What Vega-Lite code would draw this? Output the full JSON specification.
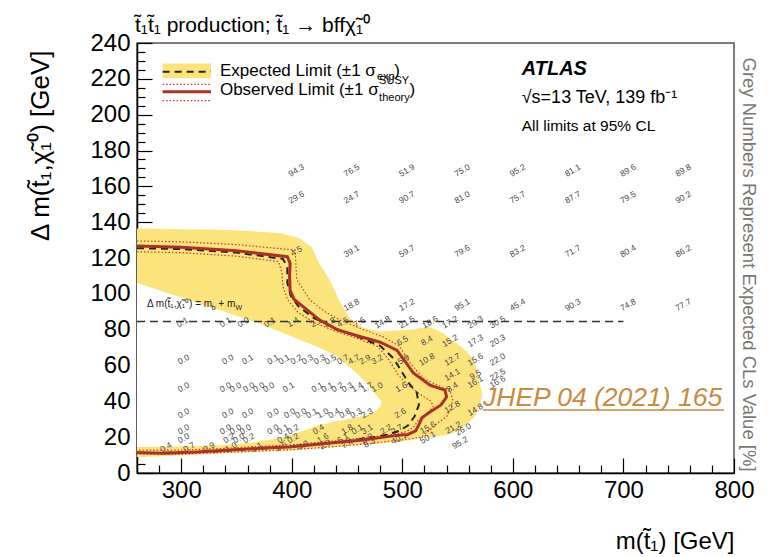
{
  "$schema": "https://vega.github.io/schema/vega-lite/v6.json",
  "autosize": {"type": "none"},
  "width": 597,
  "height": 430,
  "padding": {"left": 137, "top": 43, "right": 38, "bottom": 84},
  "background": "white",
  "config": {
    "font": "Liberation Sans",
    "view": {"stroke": "#555", "strokeWidth": 1.5},
    "axis": {"labelFont": "Liberation Sans", "titleFont": "Liberation Sans", "grid": false}
  },
  "datasets": {
    "outer": [
      {"x": 260, "lo": 9, "hi": 136.5}, {"x": 300, "lo": 9.8, "hi": 136}, {"x": 344, "lo": 11, "hi": 135.6},
      {"x": 389, "lo": 12.3, "hi": 134}, {"x": 407, "lo": 13, "hi": 131}, {"x": 418, "lo": 13.5, "hi": 126},
      {"x": 425, "lo": 13.8, "hi": 117}, {"x": 434, "lo": 14.3, "hi": 108}, {"x": 444, "lo": 14.8, "hi": 95},
      {"x": 453, "lo": 15.2, "hi": 86}, {"x": 465, "lo": 15.8, "hi": 81}, {"x": 480, "lo": 16.5, "hi": 79},
      {"x": 495, "lo": 17.3, "hi": 79.5}, {"x": 510, "lo": 18.5, "hi": 80}, {"x": 516, "lo": 19.5, "hi": 81},
      {"x": 525, "lo": 20, "hi": 81.5}, {"x": 537, "lo": 21, "hi": 78}, {"x": 545, "lo": 22, "hi": 74},
      {"x": 552, "lo": 24, "hi": 71}, {"x": 558, "lo": 27, "hi": 68}, {"x": 563, "lo": 30, "hi": 64},
      {"x": 567, "lo": 33, "hi": 59}, {"x": 570, "lo": 38, "hi": 50}, {"x": 572, "lo": 43, "hi": 45}
    ],
    "inner": [
      {"x": 260, "lo": 14.5, "hi": 106}, {"x": 300, "lo": 15, "hi": 98}, {"x": 344, "lo": 15.6, "hi": 89},
      {"x": 368, "lo": 17.5, "hi": 84}, {"x": 389, "lo": 19.5, "hi": 79}, {"x": 405, "lo": 22.3, "hi": 75},
      {"x": 423, "lo": 26.5, "hi": 70.5}, {"x": 435, "lo": 28, "hi": 67}, {"x": 441, "lo": 29, "hi": 65},
      {"x": 459, "lo": 31, "hi": 55.6}, {"x": 471, "lo": 33, "hi": 48}, {"x": 477, "lo": 35, "hi": 43},
      {"x": 481, "lo": 38, "hi": 40}
    ],
    "obs": [
      {"i": 1, "x": 260, "y": 126.7}, {"i": 2, "x": 300, "y": 126}, {"i": 3, "x": 350, "y": 124},
      {"i": 4, "x": 396, "y": 120.7}, {"i": 5, "x": 398.5, "y": 117}, {"i": 6, "x": 398, "y": 110},
      {"i": 7, "x": 398.5, "y": 102}, {"i": 8, "x": 402, "y": 97}, {"i": 9, "x": 410, "y": 93},
      {"i": 10, "x": 425, "y": 85.5}, {"i": 11, "x": 441, "y": 80}, {"i": 12, "x": 460, "y": 76.5},
      {"i": 13, "x": 480, "y": 73}, {"i": 14, "x": 495, "y": 68.6}, {"i": 15, "x": 504, "y": 61},
      {"i": 16, "x": 510, "y": 55.8}, {"i": 17, "x": 525, "y": 49}, {"i": 18, "x": 538.6, "y": 46.3},
      {"i": 19, "x": 540, "y": 42.4}, {"i": 20, "x": 535, "y": 38}, {"i": 21, "x": 525, "y": 34},
      {"i": 22, "x": 518, "y": 31}, {"i": 23, "x": 515, "y": 27}, {"i": 24, "x": 512, "y": 23.5},
      {"i": 25, "x": 505, "y": 21.5}, {"i": 26, "x": 495, "y": 21}, {"i": 27, "x": 464, "y": 18.4},
      {"i": 28, "x": 435, "y": 16.7}, {"i": 29, "x": 398, "y": 14.5}, {"i": 30, "x": 374, "y": 13.9},
      {"i": 31, "x": 344, "y": 12.8}, {"i": 32, "x": 314, "y": 11.7}, {"i": 33, "x": 284, "y": 11},
      {"i": 34, "x": 260, "y": 11.5}
    ],
    "exp": [
      {"i": 1, "x": 260, "y": 125.5}, {"i": 2, "x": 300, "y": 125}, {"i": 3, "x": 350, "y": 123},
      {"i": 4, "x": 392, "y": 119.5}, {"i": 5, "x": 396, "y": 115}, {"i": 6, "x": 396, "y": 106},
      {"i": 7, "x": 399, "y": 99}, {"i": 8, "x": 406, "y": 93}, {"i": 9, "x": 420, "y": 86.5},
      {"i": 10, "x": 440, "y": 80.5}, {"i": 11, "x": 460, "y": 76}, {"i": 12, "x": 480, "y": 71},
      {"i": 13, "x": 492, "y": 64}, {"i": 14, "x": 499, "y": 57}, {"i": 15, "x": 506, "y": 50},
      {"i": 16, "x": 513, "y": 45}, {"i": 17, "x": 515, "y": 38}, {"i": 18, "x": 511, "y": 31.5},
      {"i": 19, "x": 505, "y": 26.5}, {"i": 20, "x": 497, "y": 23.5}, {"i": 21, "x": 486, "y": 21.3},
      {"i": 22, "x": 470, "y": 19.5}, {"i": 23, "x": 450, "y": 17.8}, {"i": 24, "x": 430, "y": 16.5},
      {"i": 25, "x": 410, "y": 15.3}, {"i": 26, "x": 390, "y": 14.2}, {"i": 27, "x": 370, "y": 13.5},
      {"i": 28, "x": 350, "y": 12.8}, {"i": 29, "x": 330, "y": 12}, {"i": 30, "x": 300, "y": 11.5},
      {"i": 31, "x": 280, "y": 11.2}, {"i": 32, "x": 260, "y": 11.2}
    ],
    "thu": [
      {"i": 1, "x": 260, "y": 129.5}, {"i": 2, "x": 300, "y": 129}, {"i": 3, "x": 350, "y": 127.5},
      {"i": 4, "x": 403, "y": 124.4}, {"i": 5, "x": 404.5, "y": 108}, {"i": 6, "x": 416.5, "y": 96.5},
      {"i": 7, "x": 430, "y": 90}, {"i": 8, "x": 445, "y": 85}, {"i": 9, "x": 465, "y": 80},
      {"i": 10, "x": 482.5, "y": 76}, {"i": 11, "x": 497, "y": 71}, {"i": 12, "x": 507, "y": 61.4},
      {"i": 13, "x": 518.7, "y": 53}, {"i": 14, "x": 530, "y": 49.5}, {"i": 15, "x": 543, "y": 46.3},
      {"i": 16, "x": 545.5, "y": 41}, {"i": 17, "x": 544.6, "y": 37}, {"i": 18, "x": 540, "y": 31.4},
      {"i": 19, "x": 532, "y": 28}, {"i": 20, "x": 525, "y": 24}, {"i": 21, "x": 517, "y": 20},
      {"i": 22, "x": 500, "y": 18.5}, {"i": 23, "x": 470, "y": 16.5}, {"i": 24, "x": 440, "y": 14.8},
      {"i": 25, "x": 400, "y": 13}, {"i": 26, "x": 370, "y": 12.3}, {"i": 27, "x": 340, "y": 11.5},
      {"i": 28, "x": 300, "y": 10.5}, {"i": 29, "x": 260, "y": 10.5}
    ],
    "thd": [
      {"i": 1, "x": 260, "y": 123.5}, {"i": 2, "x": 300, "y": 123}, {"i": 3, "x": 350, "y": 121},
      {"i": 4, "x": 388, "y": 118}, {"i": 5, "x": 391, "y": 112}, {"i": 6, "x": 392, "y": 104},
      {"i": 7, "x": 396, "y": 97}, {"i": 8, "x": 405, "y": 90}, {"i": 9, "x": 420, "y": 84},
      {"i": 10, "x": 440, "y": 79}, {"i": 11, "x": 460, "y": 75}, {"i": 12, "x": 478, "y": 70.5},
      {"i": 13, "x": 488, "y": 63}, {"i": 14, "x": 496, "y": 55}, {"i": 15, "x": 505, "y": 49},
      {"i": 16, "x": 516, "y": 44}, {"i": 17, "x": 526, "y": 40}, {"i": 18, "x": 528, "y": 37},
      {"i": 19, "x": 522, "y": 33}, {"i": 20, "x": 515, "y": 30}, {"i": 21, "x": 510, "y": 25.5},
      {"i": 22, "x": 503, "y": 23}, {"i": 23, "x": 490, "y": 21.5}, {"i": 24, "x": 470, "y": 20},
      {"i": 25, "x": 440, "y": 18}, {"i": 26, "x": 400, "y": 15.8}, {"i": 27, "x": 370, "y": 14.8},
      {"i": 28, "x": 340, "y": 13.8}, {"i": 29, "x": 300, "y": 12.8}, {"i": 30, "x": 260, "y": 12.8}
    ],
    "cls": [
      {"x": 404, "y": 169, "v": "94.3"}, {"x": 454, "y": 169, "v": "76.5"}, {"x": 504, "y": 169, "v": "51.9"}, {"x": 554, "y": 169, "v": "75.0"},
      {"x": 604, "y": 169, "v": "95.2"}, {"x": 654, "y": 169, "v": "81.1"}, {"x": 704, "y": 169, "v": "89.6"}, {"x": 754, "y": 169, "v": "89.8"},
      {"x": 404, "y": 154, "v": "29.6"}, {"x": 454, "y": 154, "v": "24.7"}, {"x": 504, "y": 154, "v": "90.7"}, {"x": 554, "y": 154, "v": "81.0"},
      {"x": 604, "y": 154, "v": "75.7"}, {"x": 654, "y": 154, "v": "87.7"}, {"x": 704, "y": 154, "v": "79.5"}, {"x": 754, "y": 154, "v": "90.2"},
      {"x": 404, "y": 124, "v": "4.5"}, {"x": 454, "y": 124, "v": "39.1"}, {"x": 504, "y": 124, "v": "59.7"}, {"x": 554, "y": 124, "v": "79.6"},
      {"x": 604, "y": 124, "v": "83.2"}, {"x": 654, "y": 124, "v": "71.7"}, {"x": 704, "y": 124, "v": "80.4"}, {"x": 754, "y": 124, "v": "86.2"},
      {"x": 454, "y": 94, "v": "18.8"}, {"x": 504, "y": 94, "v": "17.2"}, {"x": 554, "y": 94, "v": "95.1"}, {"x": 604, "y": 94, "v": "45.4"},
      {"x": 654, "y": 94, "v": "90.3"}, {"x": 704, "y": 94, "v": "74.8"}, {"x": 754, "y": 94, "v": "77.7"},
      {"x": 301, "y": 84.3, "v": "0.1"}, {"x": 340, "y": 84.3, "v": "0.1"}, {"x": 356, "y": 84.3, "v": "0.0"}, {"x": 380, "y": 84.3, "v": "0.1"},
      {"x": 401, "y": 84.3, "v": "1.4"}, {"x": 422, "y": 84.3, "v": "2.1"}, {"x": 434, "y": 84.3, "v": "2.8"}, {"x": 446, "y": 84.3, "v": "4.5"},
      {"x": 461, "y": 84.3, "v": "7.6"}, {"x": 482, "y": 84.3, "v": "14.8"}, {"x": 504, "y": 84.3, "v": "21.5"}, {"x": 525, "y": 84.3, "v": "18.6"},
      {"x": 543, "y": 84.3, "v": "17.2"}, {"x": 566, "y": 84.3, "v": "29.3"}, {"x": 586, "y": 84.3, "v": "30.5"},
      {"x": 500, "y": 74, "v": "6.5"}, {"x": 522, "y": 74, "v": "8.4"}, {"x": 543, "y": 74, "v": "15.2"}, {"x": 566, "y": 74, "v": "17.3"}, {"x": 586, "y": 74, "v": "20.3"},
      {"x": 302, "y": 63.5, "v": "0.0"}, {"x": 342, "y": 63.5, "v": "0.0"}, {"x": 360, "y": 63.5, "v": "0.1"}, {"x": 383, "y": 63.5, "v": "0.1"},
      {"x": 393, "y": 63.5, "v": "0.1"}, {"x": 404, "y": 63.5, "v": "0.2"}, {"x": 414, "y": 63.5, "v": "0.3"}, {"x": 425, "y": 63.5, "v": "0.3"},
      {"x": 435, "y": 63.5, "v": "0.5"}, {"x": 446, "y": 63.5, "v": "0.7"}, {"x": 456, "y": 63.5, "v": "4.7"}, {"x": 466, "y": 63.5, "v": "2.9"},
      {"x": 477, "y": 63.5, "v": "3.2"}, {"x": 501, "y": 63.5, "v": "5.9"}, {"x": 522, "y": 63.5, "v": "10.8"}, {"x": 545, "y": 63.5, "v": "12.7"},
      {"x": 566, "y": 63.5, "v": "15.6"}, {"x": 586, "y": 63.5, "v": "22.0"},
      {"x": 545, "y": 55, "v": "14.1"}, {"x": 566, "y": 55, "v": "9.5"}, {"x": 586, "y": 55, "v": "22.5"},
      {"x": 566, "y": 51, "v": "16.1"}, {"x": 586, "y": 51, "v": "16.6"},
      {"x": 302, "y": 48, "v": "0.0"}, {"x": 340, "y": 48, "v": "0.0"}, {"x": 349, "y": 48, "v": "0.0"}, {"x": 361, "y": 48, "v": "0.0"},
      {"x": 370, "y": 48, "v": "0.0"}, {"x": 379, "y": 48, "v": "0.0"}, {"x": 397, "y": 48, "v": "0.1"}, {"x": 423, "y": 48, "v": "0.1"},
      {"x": 432, "y": 48, "v": "0.1"}, {"x": 441, "y": 48, "v": "0.2"}, {"x": 450, "y": 48, "v": "0.3"}, {"x": 459, "y": 48, "v": "1.4"},
      {"x": 468, "y": 48, "v": "1.7"}, {"x": 477, "y": 48, "v": "1.0"}, {"x": 499, "y": 48, "v": "1.6"}, {"x": 545, "y": 48, "v": "8.4"},
      {"x": 545, "y": 37, "v": "12.8"}, {"x": 566, "y": 35.5, "v": "14.8"},
      {"x": 302, "y": 33.5, "v": "0.0"}, {"x": 342, "y": 33.5, "v": "0.0"}, {"x": 360, "y": 33.5, "v": "0.0"}, {"x": 383, "y": 33.5, "v": "0.0"},
      {"x": 398, "y": 33.5, "v": "0.0"}, {"x": 408, "y": 33.5, "v": "0.0"}, {"x": 418, "y": 33.5, "v": "0.1"}, {"x": 428, "y": 33.5, "v": "1.0"},
      {"x": 438, "y": 33.5, "v": "0.4"}, {"x": 448, "y": 33.5, "v": "0.8"}, {"x": 458, "y": 33.5, "v": "0.3"}, {"x": 468, "y": 33.5, "v": "2.3"},
      {"x": 498, "y": 33.5, "v": "2.6"},
      {"x": 302, "y": 24.5, "v": "0.0"}, {"x": 340, "y": 24.5, "v": "0.0"}, {"x": 349, "y": 24.5, "v": "0.0"}, {"x": 358, "y": 24.5, "v": "0.0"},
      {"x": 383, "y": 24.5, "v": "0.0"}, {"x": 392, "y": 24.5, "v": "0.1"}, {"x": 401, "y": 24.5, "v": "0.2"}, {"x": 424, "y": 24.5, "v": "0.4"},
      {"x": 450, "y": 24.5, "v": "1.8"}, {"x": 459, "y": 24.5, "v": "0.1"}, {"x": 468, "y": 24.5, "v": "3.1"}, {"x": 485, "y": 24.5, "v": "2.2"},
      {"x": 495, "y": 24.5, "v": "2.7"}, {"x": 523, "y": 25.5, "v": "15.6"}, {"x": 546, "y": 25.5, "v": "21.2"}, {"x": 555, "y": 24.5, "v": "26.0"},
      {"x": 302, "y": 19.5, "v": "0.0"}, {"x": 343, "y": 19.5, "v": "0.2"}, {"x": 352, "y": 19.5, "v": "0.0"}, {"x": 361, "y": 19.5, "v": "0.2"},
      {"x": 392, "y": 19.5, "v": "0.4"}, {"x": 401, "y": 19.5, "v": "0.2"}, {"x": 428, "y": 19.5, "v": "1.6"}, {"x": 446, "y": 19.5, "v": "6.1"},
      {"x": 468, "y": 19.5, "v": "8.9"}, {"x": 497, "y": 19.5, "v": "40.1"}, {"x": 523, "y": 20, "v": "50.1"}, {"x": 552, "y": 17, "v": "95.2"},
      {"x": 286, "y": 14.5, "v": "0.4"}, {"x": 307, "y": 14.5, "v": "0.7"}, {"x": 325, "y": 14.5, "v": "0.9"}, {"x": 345, "y": 14.5, "v": "1.0"},
      {"x": 368, "y": 14.5, "v": "1.1"}, {"x": 390, "y": 15, "v": "1.6"}, {"x": 410, "y": 15.5, "v": "4.3"}, {"x": 430, "y": 16, "v": "3.9"},
      {"x": 450, "y": 16.5, "v": "7.4"}, {"x": 470, "y": 17, "v": "8.3"}
    ],
    "mbw": [{"x": 260, "x2": 700, "y": 84.6}],
    "legrect": [{"x": 283.2, "x2": 326.9, "y": 220.3, "y2": 228.6}],
    "legexp": [{"x": 283.2, "x2": 326.9, "y": 224}],
    "legobs": [{"x": 283.2, "x2": 326.9, "y": 212.8}],
    "legth": [{"x": 283.2, "x2": 326.9, "y": 216.9}, {"x": 283.2, "x2": 326.9, "y": 207.8}],
    "legtxt": [
      {"x": 335, "y": 221.5, "t": "Expected Limit (\u00b11 \u03c3"},
      {"x": 492.7, "y": 221.5, "t": ")"},
      {"x": 335, "y": 211, "t": "Observed Limit (\u00b11 \u03c3"},
      {"x": 506.5, "y": 211, "t": ")"}
    ],
    "legsub": [
      {"x": 477, "y": 219.6, "t": "exp"},
      {"x": 479, "y": 217, "t": "SUSY"},
      {"x": 479, "y": 207.6, "t": "theory"}
    ],
    "head": [{"x": 258.2, "y": 246.1, "t": "t\u0303\u2081t\u0303\u2081 production;  t\u0303\u2081 \u2192 bff\u03c7\u0303\u2081\u2070"}],
    "atlas": [{"x": 608, "y": 222, "t": "ATLAS"}],
    "energy": [{"x": 608, "y": 206.3, "t": "\u221as=13 TeV, 139 fb\u207b\u00b9"}],
    "cl": [{"x": 608, "y": 191, "t": "All limits at 95% CL"}],
    "jhep": [{"x": 573, "y": 37.4, "t": "JHEP 04 (2021) 165"}],
    "jhepline": [{"x": 573, "x2": 791, "y": 35.2}],
    "mbwtxt": [
      {"x": 269, "y": 92.8, "t": "\u0394 m(t\u0303\u2081,\u03c7\u0303\u2081\u2070) = m"},
      {"x": 333.5, "y": 92.8, "t": "+ m"}
    ],
    "mbwsub": [
      {"x": 327.5, "y": 91, "t": "b"},
      {"x": 349, "y": 91, "t": "W"}
    ]
  },
  "resolve": {"axis": {"x": "independent", "y": "independent"}},
  "layer": [
    {
      "data": {"name": "outer"},
      "mark": {"type": "area", "color": "#fce47d", "orient": "vertical"},
      "encoding": {
        "x": {"field": "x", "type": "quantitative", "scale": {"domain": [260, 800], "nice": false, "zero": false},
          "axis": {"orient": "bottom", "values": [300, 400, 500, 600, 700, 800], "title": "m(t\u0303\u2081) [GeV]",
            "tickSize": -15, "labelPadding": 20, "labelFontSize": 24, "labelColor": "#000", "labelFlush": false, "labelOverlap": false,
            "domainColor": "#000", "domainWidth": 1.5, "tickColor": "#000", "tickWidth": 1.2,
            "titleFontSize": 24, "titleFontWeight": "normal", "titleColor": "#000",
            "titleAlign": "right", "titleBaseline": "alphabetic", "titleX": 597, "titleY": 75}},
        "y": {"field": "lo", "type": "quantitative", "scale": {"domain": [0, 240], "nice": false, "zero": false},
          "axis": {"orient": "left", "values": [0, 20, 40, 60, 80, 100, 120, 140, 160, 180, 200, 220, 240],
            "title": "\u0394 m(t\u0303\u2081,\u03c7\u0303\u2081\u2070) [GeV]",
            "tickSize": -15, "labelPadding": 22, "labelFontSize": 24, "labelColor": "#000", "labelFlush": false, "labelOverlap": false,
            "domainColor": "#000", "domainWidth": 1.5, "tickColor": "#000", "tickWidth": 1.2,
            "titleFontSize": 26, "titleFontWeight": "normal", "titleColor": "#000", "titleAngle": -90,
            "titleAlign": "right", "titleBaseline": "middle", "titleX": -97, "titleY": 7}},
        "y2": {"field": "hi"}
      }
    },
    {
      "data": {"name": "inner"},
      "mark": {"type": "area", "color": "#ffffff", "orient": "vertical"},
      "encoding": {
        "x": {"field": "x", "type": "quantitative",
          "axis": {"orient": "bottom", "values": [280, 320, 340, 360, 380, 420, 440, 460, 480, 520, 540, 560, 580, 620, 640, 660, 680, 720, 740, 760, 780],
            "labels": false, "domain": false, "tickSize": -8, "tickColor": "#000", "tickWidth": 1.2, "title": null}},
        "y": {"field": "lo", "type": "quantitative",
          "axis": {"orient": "left", "values": [5, 10, 15, 25, 30, 35, 45, 50, 55, 65, 70, 75, 85, 90, 95, 105, 110, 115, 125, 130, 135, 145, 150, 155, 165, 170, 175, 185, 190, 195, 205, 210, 215, 225, 230, 235],
            "labels": false, "domain": false, "tickSize": -8, "tickColor": "#000", "tickWidth": 1.2, "title": null}},
        "y2": {"field": "hi"}
      }
    },
    {
      "data": {"name": "cls"},
      "mark": {"type": "text", "fontSize": 8.5, "color": "#4a4a4a", "angle": -30, "align": "center", "baseline": "middle"},
      "encoding": {
        "x": {"field": "x", "type": "quantitative", "axis": null},
        "y": {"field": "y", "type": "quantitative", "axis": null},
        "text": {"field": "v"}
      }
    },
    {
      "data": {"name": "mbw"},
      "mark": {"type": "rule", "color": "#333", "strokeWidth": 1.5, "strokeDash": [8, 5]},
      "encoding": {
        "x": {"field": "x", "type": "quantitative", "axis": null},
        "x2": {"field": "x2"},
        "y": {"field": "y", "type": "quantitative",
          "axis": {"orient": "right", "title": "Grey Numbers Represent Expected CLs Value [%]", "labels": false, "ticks": false, "domain": false,
            "titleAngle": 90, "titleFontSize": 18.5, "titleFontWeight": "normal", "titleColor": "#777",
            "titleAlign": "left", "titleBaseline": "middle", "titleX": 14, "titleY": 14}}
      }
    },
    {
      "data": {"name": "thu"},
      "mark": {"type": "line", "color": "#c0392b", "strokeWidth": 1.2, "strokeDash": [1.5, 2]},
      "encoding": {
        "x": {"field": "x", "type": "quantitative", "axis": null},
        "y": {"field": "y", "type": "quantitative", "axis": null},
        "order": {"field": "i", "type": "quantitative"}
      }
    },
    {
      "data": {"name": "thd"},
      "mark": {"type": "line", "color": "#c0392b", "strokeWidth": 1.2, "strokeDash": [1.5, 2]},
      "encoding": {
        "x": {"field": "x", "type": "quantitative", "axis": null},
        "y": {"field": "y", "type": "quantitative", "axis": null},
        "order": {"field": "i", "type": "quantitative"}
      }
    },
    {
      "data": {"name": "exp"},
      "mark": {"type": "line", "color": "#222", "strokeWidth": 2, "strokeDash": [7, 5]},
      "encoding": {
        "x": {"field": "x", "type": "quantitative", "axis": null},
        "y": {"field": "y", "type": "quantitative", "axis": null},
        "order": {"field": "i", "type": "quantitative"}
      }
    },
    {
      "data": {"name": "obs"},
      "mark": {"type": "line", "color": "#a93226", "strokeWidth": 3},
      "encoding": {
        "x": {"field": "x", "type": "quantitative", "axis": null},
        "y": {"field": "y", "type": "quantitative", "axis": null},
        "order": {"field": "i", "type": "quantitative"}
      }
    },
    {
      "data": {"name": "legrect"},
      "mark": {"type": "rect", "color": "#fce47d"},
      "encoding": {
        "x": {"field": "x", "type": "quantitative", "axis": null},
        "x2": {"field": "x2"},
        "y": {"field": "y", "type": "quantitative", "axis": null},
        "y2": {"field": "y2"}
      }
    },
    {
      "data": {"name": "legexp"},
      "mark": {"type": "rule", "color": "#222", "strokeWidth": 2, "strokeDash": [7, 5]},
      "encoding": {
        "x": {"field": "x", "type": "quantitative", "axis": null},
        "x2": {"field": "x2"},
        "y": {"field": "y", "type": "quantitative", "axis": null}
      }
    },
    {
      "data": {"name": "legth"},
      "mark": {"type": "rule", "color": "#c0392b", "strokeWidth": 1.2, "strokeDash": [1.5, 2]},
      "encoding": {
        "x": {"field": "x", "type": "quantitative", "axis": null},
        "x2": {"field": "x2"},
        "y": {"field": "y", "type": "quantitative", "axis": null}
      }
    },
    {
      "data": {"name": "legobs"},
      "mark": {"type": "rule", "color": "#a93226", "strokeWidth": 3},
      "encoding": {
        "x": {"field": "x", "type": "quantitative", "axis": null},
        "x2": {"field": "x2"},
        "y": {"field": "y", "type": "quantitative", "axis": null}
      }
    },
    {
      "data": {"name": "legtxt"},
      "mark": {"type": "text", "fontSize": 17, "color": "#000", "align": "left", "baseline": "alphabetic"},
      "encoding": {
        "x": {"field": "x", "type": "quantitative", "axis": null},
        "y": {"field": "y", "type": "quantitative", "axis": null},
        "text": {"field": "t"}
      }
    },
    {
      "data": {"name": "legsub"},
      "mark": {"type": "text", "fontSize": 11, "color": "#000", "align": "left", "baseline": "alphabetic"},
      "encoding": {
        "x": {"field": "x", "type": "quantitative", "axis": null},
        "y": {"field": "y", "type": "quantitative", "axis": null},
        "text": {"field": "t"}
      }
    },
    {
      "data": {"name": "head"},
      "mark": {"type": "text", "fontSize": 21, "color": "#000", "align": "left", "baseline": "alphabetic"},
      "encoding": {
        "x": {"field": "x", "type": "quantitative", "axis": null},
        "y": {"field": "y", "type": "quantitative", "axis": null},
        "text": {"field": "t"}
      }
    },
    {
      "data": {"name": "atlas"},
      "mark": {"type": "text", "fontSize": 20, "fontWeight": "bold", "fontStyle": "italic", "color": "#000", "align": "left", "baseline": "alphabetic"},
      "encoding": {
        "x": {"field": "x", "type": "quantitative", "axis": null},
        "y": {"field": "y", "type": "quantitative", "axis": null},
        "text": {"field": "t"}
      }
    },
    {
      "data": {"name": "energy"},
      "mark": {"type": "text", "fontSize": 18, "color": "#000", "align": "left", "baseline": "alphabetic"},
      "encoding": {
        "x": {"field": "x", "type": "quantitative", "axis": null},
        "y": {"field": "y", "type": "quantitative", "axis": null},
        "text": {"field": "t"}
      }
    },
    {
      "data": {"name": "cl"},
      "mark": {"type": "text", "fontSize": 15.5, "color": "#000", "align": "left", "baseline": "alphabetic"},
      "encoding": {
        "x": {"field": "x", "type": "quantitative", "axis": null},
        "y": {"field": "y", "type": "quantitative", "axis": null},
        "text": {"field": "t"}
      }
    },
    {
      "data": {"name": "jhep"},
      "mark": {"type": "text", "fontSize": 26.5, "fontStyle": "italic", "color": "#c98b3d", "align": "left", "baseline": "alphabetic"},
      "encoding": {
        "x": {"field": "x", "type": "quantitative", "axis": null},
        "y": {"field": "y", "type": "quantitative", "axis": null},
        "text": {"field": "t"}
      }
    },
    {
      "data": {"name": "jhepline"},
      "mark": {"type": "rule", "color": "#c98b3d", "strokeWidth": 1.5},
      "encoding": {
        "x": {"field": "x", "type": "quantitative", "axis": null},
        "x2": {"field": "x2"},
        "y": {"field": "y", "type": "quantitative", "axis": null}
      }
    },
    {
      "data": {"name": "mbwtxt"},
      "mark": {"type": "text", "fontSize": 10, "color": "#222", "align": "left", "baseline": "alphabetic"},
      "encoding": {
        "x": {"field": "x", "type": "quantitative", "axis": null},
        "y": {"field": "y", "type": "quantitative", "axis": null},
        "text": {"field": "t"}
      }
    },
    {
      "data": {"name": "mbwsub"},
      "mark": {"type": "text", "fontSize": 7, "color": "#222", "align": "left", "baseline": "alphabetic"},
      "encoding": {
        "x": {"field": "x", "type": "quantitative", "axis": null},
        "y": {"field": "y", "type": "quantitative", "axis": null},
        "text": {"field": "t"}
      }
    }
  ]
}
